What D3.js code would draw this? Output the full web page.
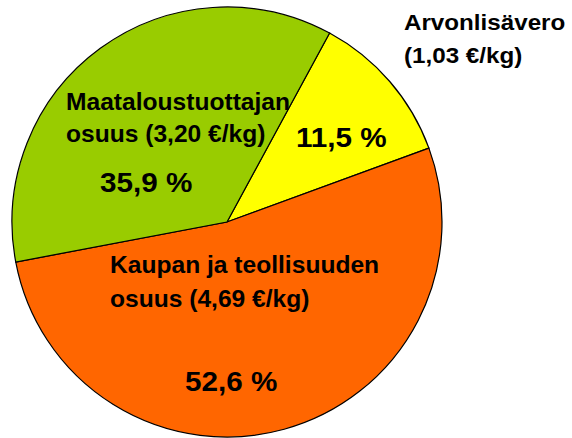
<!DOCTYPE html>
<html>
<head>
<meta charset="utf-8">
<script src="https://cdn.jsdelivr.net/npm/d3@7"></script>
<style>
  body { margin: 0; background: #fff; }
  svg text { font-family: "Liberation Sans", Arial, sans-serif; font-weight: bold; fill: #000; }
</style>
</head>
<body>
<svg id="svg" width="572" height="438"></svg>
<script>
  // slices in clockwise order, starting from the VAT slice
  const names = ['Arvonlisävero', 'Kaupan ja teollisuuden osuus', 'Maataloustuottajan osuus'];
  const shares = [11.5, 52.6, 35.9];
  const pctLabels = ['11,5 %', '52,6 %', '35,9 %'];
  const nameLines = [
    ['Arvonlisävero', '(1,03 €/kg)'],
    ['Kaupan ja teollisuuden', 'osuus (4,69 €/kg)'],
    ['Maataloustuottajan', 'osuus (3,20 €/kg)']
  ];
  const colorAry = ['#ffff00', '#ff6600', '#99cc00'];

  const cx = 227, cy = 222, radius = 215;
  const startAngle = 28.5 * Math.PI / 180;

  let svg = d3.select('#svg');
  let g = svg.append('g').attr('transform', `translate(${cx},${cy})`);

  let pie = d3.pie()
    .sort(null)
    .value(d => d)
    .startAngle(startAngle)
    .endAngle(startAngle + 2 * Math.PI);

  let path = d3.arc().outerRadius(radius).innerRadius(0);

  g.selectAll('path')
    .data(pie(shares))
    .enter()
    .append('path')
    .attr('d', path)
    .attr('fill', (d, i) => colorAry[i])
    .attr('stroke', '#000')
    .attr('stroke-width', 1.2);

  // text positions (absolute, from the picture)
  const namePos = [[404, 30, 33], [110, 273, 34], [66, 110, 32]];
  const pctPos = [[296, 147], [185, 391], [100, 192]];

  nameLines.forEach((lines, i) => {
    let [x, y, dy] = namePos[i];
    let t = svg.append('g')
      .attr('transform', `translate(${x},${y}) scale(${i === 0 ? 1.1 : 1.07},1)`);
    lines.forEach((line, j) => {
      t.append('text')
        .attr('x', 0)
        .attr('y', j * dy)
        .attr('font-size', (i === 0 ? 22 : 23) + 'px')
        .text(line);
    });
  });

  pctLabels.forEach((label, i) => {
    let [x, y] = pctPos[i];
    svg.append('g')
      .attr('transform', `translate(${x},${y}) scale(1.06,1)`)
      .append('text')
      .attr('font-size', '28px')
      .text(label);
  });
</script>
</body>
</html>
